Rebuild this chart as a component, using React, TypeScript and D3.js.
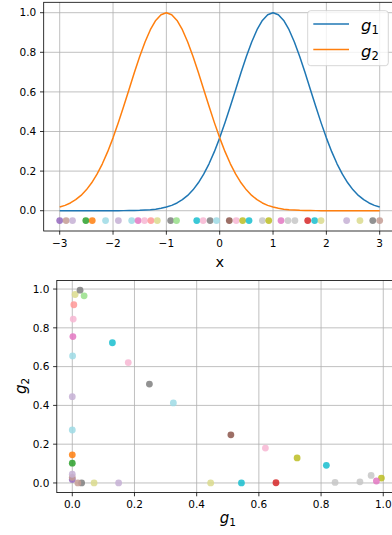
import { useEffect, useRef } from "react";
import * as d3 from "d3";

// sample positions of the two curves
const curveX = [
    -3.0, -2.9, -2.8, -2.7, -2.6, -2.5, -2.4, -2.3, -2.2, -2.1,
    -2.0, -1.9, -1.8, -1.7, -1.6, -1.5, -1.4, -1.3, -1.2, -1.1,
    -1.0, -0.9, -0.8, -0.7, -0.6, -0.5, -0.4, -0.3, -0.2, -0.1,
    0.0, 0.1, 0.2, 0.3, 0.4, 0.5, 0.6, 0.7, 0.8, 0.9,
    1.0, 1.1, 1.2, 1.3, 1.4, 1.5, 1.6, 1.7, 1.8, 1.9,
    2.0, 2.1, 2.2, 2.3, 2.4, 2.5, 2.6, 2.7, 2.8, 2.9, 3.0,
];

const g1Curve = [
    0, 0, 0, 0, 0, 0, 0, 0, 0, 0.0001,
    0.0001, 0.0002, 0.0004, 0.0007, 0.0012, 0.0019, 0.0032, 0.005, 0.0079, 0.0122,
    0.0183, 0.0271, 0.0392, 0.0556, 0.0773, 0.1054, 0.1409, 0.1845, 0.2369, 0.2982,
    0.3679, 0.4449, 0.5273, 0.6126, 0.6977, 0.7788, 0.8521, 0.9139, 0.9608, 0.99,
    1.0, 0.99, 0.9608, 0.9139, 0.8521, 0.7788, 0.6977, 0.6126, 0.5273, 0.4449,
    0.3679, 0.2982, 0.2369, 0.1845, 0.1409, 0.1054, 0.0773, 0.0556, 0.0392, 0.0271, 0.0183,
];

const g2Curve = [
    0.0183, 0.0271, 0.0392, 0.0556, 0.0773, 0.1054, 0.1409, 0.1845, 0.2369, 0.2982,
    0.3679, 0.4449, 0.5273, 0.6126, 0.6977, 0.7788, 0.8521, 0.9139, 0.9608, 0.99,
    1.0, 0.99, 0.9608, 0.9139, 0.8521, 0.7788, 0.6977, 0.6126, 0.5273, 0.4449,
    0.3679, 0.2982, 0.2369, 0.1845, 0.1409, 0.1054, 0.0773, 0.0556, 0.0392, 0.0271,
    0.0183, 0.0122, 0.0079, 0.005, 0.0032, 0.0019, 0.0012, 0.0007, 0.0004, 0.0002,
    0.0001, 0.0001, 0, 0, 0, 0, 0, 0, 0, 0, 0,
];

// sampled points (strip at y = -0.05, and g1 vs g2 below)
const pointX = [
    -3.0, -2.88, -2.76, -2.51, -2.39, -2.14, -1.9, -1.65, -1.53, -1.41,
    -1.29, -1.17, -0.92, -0.81, -0.43, -0.31, -0.18, -0.06, 0.18, 0.31,
    0.43, 0.55, 0.8, 0.92, 1.15, 1.28, 1.41, 1.65, 1.78, 1.9,
    2.38, 2.63, 2.87, 3.0,
];
const pointG1 = [
    0, 0, 0, 0, 0, 0, 0, 0.001, 0.002, 0.003,
    0.005, 0.009, 0.025, 0.038, 0.129, 0.18, 0.248, 0.325, 0.51, 0.621,
    0.723, 0.817, 0.961, 0.994, 0.978, 0.925, 0.845, 0.655, 0.544, 0.445,
    0.149, 0.07, 0.03, 0.018,
];
const pointG2 = [
    0.018, 0.029, 0.045, 0.102, 0.145, 0.273, 0.445, 0.655, 0.755, 0.845,
    0.919, 0.972, 0.994, 0.965, 0.723, 0.621, 0.51, 0.413, 0.248, 0.18,
    0.129, 0.091, 0.039, 0.025, 0.01, 0.006, 0.003, 0.001, 0, 0,
    0, 0, 0, 0,
];
const pointColor = [
    "#9467bd", "#c49c94", "#c5b0d5", "#2ca02c", "#ff7f0e", "#9edae5", "#c5b0d5", "#9edae5", "#e377c2", "#f7b6d2",
    "#ff9896", "#dbdb8d", "#7f7f7f", "#98df8a", "#17becf", "#f7b6d2", "#7f7f7f", "#9edae5", "#8c564b", "#f7b6d2",
    "#bcbd22", "#17becf", "#c7c7c7", "#bcbd22", "#e377c2", "#c7c7c7", "#c7c7c7", "#d62728", "#17becf", "#dbdb8d",
    "#c5b0d5", "#dbdb8d", "#7f7f7f", "#c49c94",
];
const stripY = -0.05;

const topXTicks = [-3, -2, -1, 0, 1, 2, 3];
const unitTicks = [0, 0.2, 0.4, 0.6, 0.8, 1.0];
const seriesSub = ["1", "2"];
const seriesColor = ["#1f77b4", "#ff7f0e"];

const FONT = "DejaVu Sans, sans-serif";
const TICK_FS = 10.5;

export default function App() {
    const svgRef = useRef<SVGSVGElement | null>(null);

    useEffect(() => {
        if (!svgRef.current) return;
        const svg = d3.select(svgRef.current);
        svg.selectAll("*").remove();

        svg.append("rect").attr("width", 392).attr("height", 535).attr("fill", "#fff");

        // top panel scales
        const xTop = d3.scaleLinear().domain([-3.3, 3.3]).range([43.7, 395.7]);
        const yTop = d3.scaleLinear().domain([-0.1025, 1.0525]).range([231.0, 2.3]);

        // bottom panel scales
        const xBot = d3.scaleLinear().domain([-0.0498, 1.0458]).range([56.8, 397.5]);
        const yBot = d3.scaleLinear().domain([-0.0497, 1.0441]).range([492.6, 280.5]);

        const drawGrid = (
            x: d3.ScaleLinear<number, number>,
            y: d3.ScaleLinear<number, number>,
            xt: number[],
            yt: number[]
        ) => {
            const [x0, x1] = x.range();
            const [y0, y1] = y.range();
            const g = svg.append("g");
            g.selectAll(".gx")
                .data(xt)
                .enter()
                .append("line")
                .attr("x1", (d) => x(d))
                .attr("x2", (d) => x(d))
                .attr("y1", y0)
                .attr("y2", y1)
                .attr("stroke", "#b0b0b0")
                .attr("stroke-width", 0.8);
            g.selectAll(".gy")
                .data(yt)
                .enter()
                .append("line")
                .attr("x1", x0)
                .attr("x2", x1)
                .attr("y1", (d) => y(d))
                .attr("y2", (d) => y(d))
                .attr("stroke", "#b0b0b0")
                .attr("stroke-width", 0.8);
        };

        const drawAxes = (
            x: d3.ScaleLinear<number, number>,
            y: d3.ScaleLinear<number, number>,
            xt: number[],
            yt: number[],
            fmtX: (v: number) => string
        ) => {
            const [x0, x1] = x.range();
            const [y0, y1] = y.range();
            const g = svg.append("g");
            g.append("rect")
                .attr("x", x0)
                .attr("y", y1)
                .attr("width", x1 - x0)
                .attr("height", y0 - y1)
                .attr("fill", "none")
                .attr("stroke", "#000")
                .attr("stroke-width", 0.8);
            xt.forEach((v) => {
                g.append("line")
                    .attr("x1", x(v))
                    .attr("x2", x(v))
                    .attr("y1", y0)
                    .attr("y2", y0 + 3.7)
                    .attr("stroke", "#000")
                    .attr("stroke-width", 0.8);
                g.append("text")
                    .attr("x", x(v))
                    .attr("y", y0 + 15.5)
                    .attr("text-anchor", "middle")
                    .attr("font-family", FONT)
                    .attr("font-size", TICK_FS)
                    .attr("fill", "#000")
                    .text(fmtX(v));
            });
            yt.forEach((v) => {
                g.append("line")
                    .attr("x1", x0 - 3.7)
                    .attr("x2", x0)
                    .attr("y1", y(v))
                    .attr("y2", y(v))
                    .attr("stroke", "#000")
                    .attr("stroke-width", 0.8);
                g.append("text")
                    .attr("x", x0 - 7.4)
                    .attr("y", y(v))
                    .attr("dy", "0.36em")
                    .attr("text-anchor", "end")
                    .attr("font-family", FONT)
                    .attr("font-size", TICK_FS)
                    .attr("fill", "#000")
                    .text(v.toFixed(1));
            });
        };

        const minusFmt = (v: number) => (v < 0 ? `\u2212${Math.abs(v)}` : `${v}`);

        drawGrid(xTop, yTop, topXTicks, unitTicks);
        drawGrid(xBot, yBot, unitTicks, unitTicks);

        // curves
        [g1Curve, g2Curve].forEach((vals, k) => {
            const line = d3
                .line<number>()
                .x((_, i) => xTop(curveX[i]))
                .y((d) => yTop(d));
            svg.append("path")
                .attr("d", line(vals) as string)
                .attr("fill", "none")
                .attr("stroke", seriesColor[k])
                .attr("stroke-width", 1.5)
                .attr("stroke-linejoin", "round");
        });

        // strip points
        svg.append("g")
            .selectAll("circle")
            .data(pointX)
            .enter()
            .append("circle")
            .attr("cx", (d) => xTop(d))
            .attr("cy", yTop(stripY))
            .attr("r", 3.4)
            .attr("fill", (_, i) => pointColor[i])
            .attr("fill-opacity", 0.85);

        // g1 vs g2 points
        svg.append("g")
            .selectAll("circle")
            .data(pointG1)
            .enter()
            .append("circle")
            .attr("cx", (d) => xBot(d))
            .attr("cy", (_, i) => yBot(pointG2[i]))
            .attr("r", 3.4)
            .attr("fill", (_, i) => pointColor[i])
            .attr("fill-opacity", 0.85);

        drawAxes(xTop, yTop, topXTicks, unitTicks, minusFmt);
        drawAxes(xBot, yBot, unitTicks, unitTicks, (v) => v.toFixed(1));

        // axis labels
        svg.append("text")
            .attr("x", xTop(0))
            .attr("y", 267)
            .attr("text-anchor", "middle")
            .attr("font-family", FONT)
            .attr("font-size", 14.5)
            .text("x");

        const mathLabel = (sel: any, sub: string, fs: number) => {
            sel.append("tspan").attr("font-style", "italic").text("g");
            sel.append("tspan")
                .attr("font-size", fs * 0.7)
                .attr("dy", fs * 0.2)
                .text(sub);
        };

        const xl = svg
            .append("text")
            .attr("x", xBot(0.5))
            .attr("y", 523)
            .attr("text-anchor", "middle")
            .attr("font-family", FONT)
            .attr("font-size", 15);
        mathLabel(xl, "1", 15);

        const yl = svg
            .append("text")
            .attr("transform", `translate(26,${yBot(0.5)}) rotate(-90)`)
            .attr("text-anchor", "middle")
            .attr("font-family", FONT)
            .attr("font-size", 15);
        mathLabel(yl, "2", 15);

        // legend
        const lg = svg.append("g");
        lg.append("rect")
            .attr("x", 307.7)
            .attr("y", 10.7)
            .attr("width", 80.6)
            .attr("height", 55)
            .attr("rx", 3)
            .attr("fill", "#fff")
            .attr("fill-opacity", 0.8)
            .attr("stroke", "#cccccc")
            .attr("stroke-width", 0.8);
        seriesSub.forEach((s, i) => {
            const cy = 24 + i * 25.5;
            lg.append("line")
                .attr("x1", 313.3)
                .attr("x2", 349)
                .attr("y1", cy)
                .attr("y2", cy)
                .attr("stroke", seriesColor[i])
                .attr("stroke-width", 1.5);
            const t = lg
                .append("text")
                .attr("x", 361)
                .attr("y", cy + 7)
                .attr("font-family", FONT)
                .attr("font-size", 16.5);
            mathLabel(t, s, 16.5);
        });
    }, []);

    return (
        <svg
            ref={svgRef}
            width={392}
            height={535}
            style={{ position: "absolute", left: 0, top: 0 }}
        />
    );
}
